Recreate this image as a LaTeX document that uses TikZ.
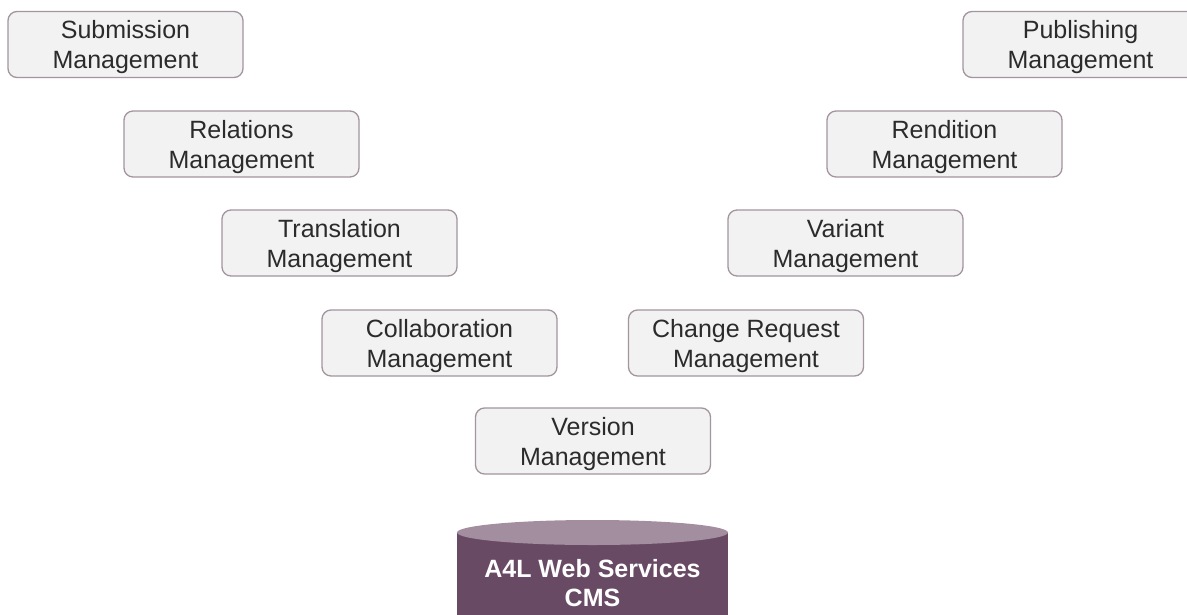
\documentclass[tikz,border=0pt]{standalone}
\usepackage{fontspec}
\setmainfont{Liberation Sans}
\definecolor{boxfill}{HTML}{F2F2F2}
\definecolor{boxline}{HTML}{A3949F}
\definecolor{txt}{HTML}{2B2B2B}
\definecolor{cylbody}{HTML}{694A65}
\definecolor{cyltop}{HTML}{A38E9F}
\begin{document}
\begin{tikzpicture}[x=1pt,y=-1pt,
  mgmt/.style={rectangle, rounded corners=9pt, draw=boxline, line width=1.3pt, fill=boxfill,
    minimum width=235pt, minimum height=66pt, align=center, text=txt,
    font=\fontsize{25}{30}\selectfont, inner sep=0pt, text depth=0pt},
  cmstext/.style={align=center, text=white, font=\bfseries\fontsize{25}{28.5}\selectfont, inner sep=0pt}]
\useasboundingbox (0,0) rectangle (1187,614);
\node[mgmt] (sub) at (125.5,44.5) {Submission\\Management};
\node[mgmt] (rel) at (241.5,144) {Relations\\Management};
\node[mgmt] (tra) at (339.5,243) {Translation\\Management};
\node[mgmt] (col) at (439.5,343) {Collaboration\\Management};
\node[mgmt] (ver) at (593,441) {Version\\Management};
\node[mgmt] (chg) at (746,343) {Change Request\\Management};
\node[mgmt] (var) at (845.5,243) {Variant\\Management};
\node[mgmt] (ren) at (944.5,144) {Rendition\\Management};
\node[mgmt] (pub) at (1080.5,44.5) {Publishing\\Management};
% cylinder
\fill[cylbody] (457,532.5) -- (457,620) -- (728,620) -- (728,532.5) -- cycle;
\fill[cyltop] (592.5,532.5) ellipse [x radius=135.5, y radius=12.5];
\node[cmstext] (cms) at (592.5,583) {A4L Web Services\\CMS};
\end{tikzpicture}
\end{document}
